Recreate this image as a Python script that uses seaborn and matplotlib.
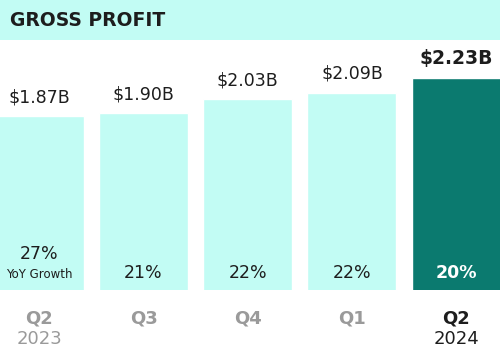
import matplotlib
matplotlib.use("Agg")
import matplotlib.pyplot as plt
import seaborn as sns
import pandas as pd
from matplotlib.patches import Rectangle

categories = ["Q2\n2023", "Q3", "Q4", "Q1", "Q2\n2024"]
gross_profit = [1.87, 1.90, 2.03, 2.09, 2.23]
value_labels = ["$1.87B", "$1.90B", "$2.03B", "$2.09B", "$2.23B"]
growth_labels = ["27%", "21%", "22%", "22%", "20%"]

LIGHT = "#c2fcf4"
DARK = "#0b7a6f"

sns.set_theme(style="white")
plt.rcParams["font.family"] = ["DejaVu Sans"]

W, H = 500, 356
fig = plt.figure(figsize=(W / 100, H / 100), dpi=100)
fig.patch.set_facecolor("white")

# header band
fig.add_artist(Rectangle((0, 1 - 40 / H), 1, 40 / H, transform=fig.transFigure,
                         facecolor=LIGHT, edgecolor="none", zorder=0))
fig.text(10 / W, 1 - 20 / H, "GROSS PROFIT",
         fontsize=13.5, fontweight="heavy", color="#1d1d1d", va="center", ha="left")

ax = fig.add_axes([0, 66 / H, 1, 250 / H])
df = pd.DataFrame({"quarter": categories, "value": gross_profit})
colors = [LIGHT, LIGHT, LIGHT, LIGHT, DARK]
sns.barplot(data=df, x="quarter", y="value", hue="quarter", palette=colors,
            legend=False, width=0.854, ax=ax, saturation=1)

ax.set_xlim(-0.377, 4.42)
ax.set_ylim(0.222, 2.589)
for s in ax.spines.values():
    s.set_visible(False)
ax.set_yticks([])
ax.set_xlabel("")
ax.set_ylabel("")
ax.set_facecolor("none")
ax.tick_params(axis="x", length=0, pad=14)
ax.set_xticks(range(len(categories)))
quarters = [c.split("\n")[0] for c in categories]
ax.set_xticklabels(quarters, fontsize=13, fontweight="bold", color="#9a9a9a")
ticks = ax.get_xticklabels()
ticks[-1].set_color("#1d1d1d")

for i, c in enumerate(categories):
    parts = c.split("\n")
    if len(parts) > 1:
        last = i == len(categories) - 1
        ax.annotate(parts[1], (i, 0.222), xytext=(0, -29), textcoords="offset points",
                    ha="center", va="top", fontsize=13, fontweight="normal",
                    color="#1d1d1d" if last else "#9a9a9a", annotation_clip=False)

for i, (v, lbl) in enumerate(zip(gross_profit, value_labels)):
    last = i == len(gross_profit) - 1
    ax.annotate(lbl, (i, v), xytext=(0, 7), textcoords="offset points",
                ha="center", va="bottom", fontsize=13.5 if last else 12.5,
                fontweight="bold" if last else "normal", color="#1d1d1d")

for i, g in enumerate(growth_labels):
    last = i == len(growth_labels) - 1
    if i == 0:
        ax.annotate(g, (i, 0.222), xytext=(0, 26), textcoords="offset points",
                    ha="center", va="center", fontsize=12.5, color="#1d1d1d")
        ax.annotate("YoY Growth", (i, 0.222), xytext=(0, 11), textcoords="offset points",
                    ha="center", va="center", fontsize=8.5, color="#1d1d1d")
    else:
        ax.annotate(g, (i, 0.222), xytext=(0, 12), textcoords="offset points",
                    ha="center", va="center", fontsize=12.5,
                    fontweight="bold" if last else "normal",
                    color="white" if last else "#1d1d1d")

fig.savefig("out.png", dpi=100)
